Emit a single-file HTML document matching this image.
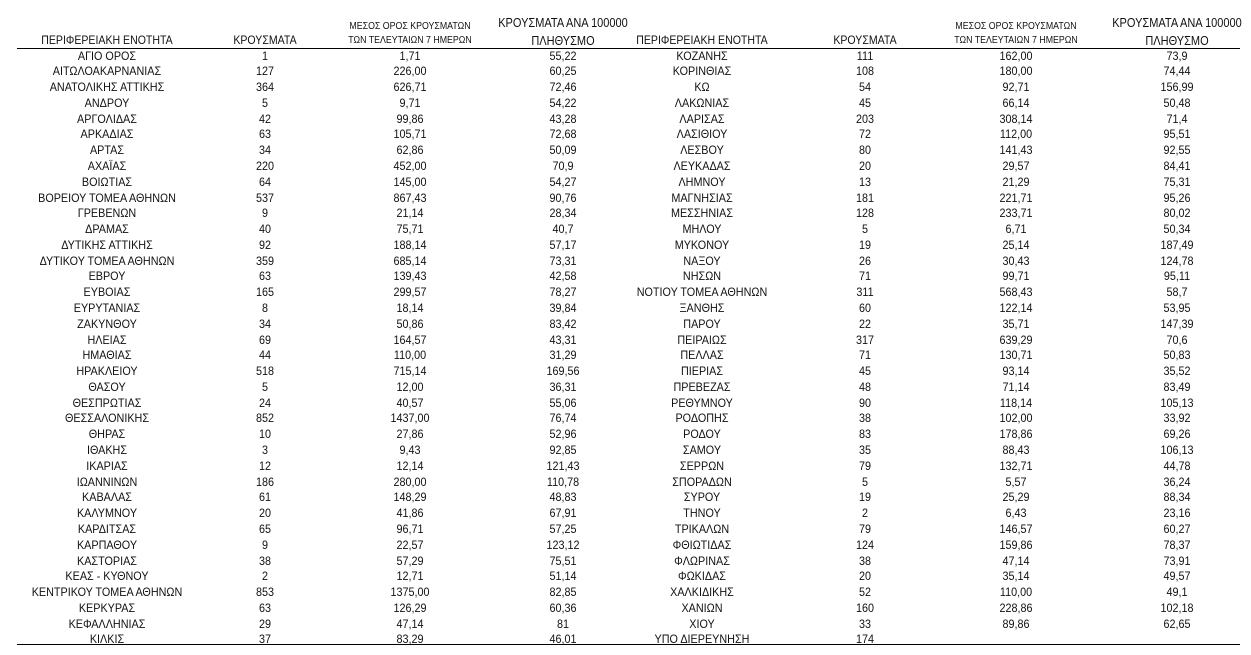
<!DOCTYPE html>
<html><head><meta charset="utf-8"><style>
body{margin:0;width:1251px;height:655px;background:#fff;position:relative;overflow:hidden;font-family:"Liberation Sans","DejaVu Sans",sans-serif;color:#000}
.c{position:absolute;width:300px;text-align:center;font-size:12px;line-height:15.78px;transform:scaleX(.9);transform-origin:center top;white-space:nowrap;top:48.5px;color:#111}
.h{position:absolute;width:300px;text-align:center;white-space:nowrap;transform:scaleX(.88);transform-origin:center top;color:#111}
.line{position:absolute;left:17px;width:1223px;height:1.3px;background:#000}
</style></head><body>
<div class="line" style="top:47.5px"></div>
<div class="line" style="top:643.5px"></div>

<div class="h" style="left:-43px;top:33px;font-size:12px">ΠΕΡΙΦΕΡΕΙΑΚΗ ΕΝΟΤΗΤΑ</div>
<div class="h" style="left:115px;top:33px;font-size:12px">ΚΡΟΥΣΜΑΤΑ</div>
<div class="h" style="left:260px;top:20px;font-size:10px;line-height:13.5px">ΜΕΣΟΣ ΟΡΟΣ ΚΡΟΥΣΜΑΤΩΝ<br>ΤΩΝ ΤΕΛΕΥΤΑΙΩΝ 7 ΗΜΕΡΩΝ</div>
<div class="h" style="left:413px;top:14px;font-size:12.5px;line-height:18px">ΚΡΟΥΣΜΑΤΑ ΑΝΑ 100000<br>ΠΛΗΘΥΣΜΟ</div>

<div class="h" style="left:552px;top:33px;font-size:12px">ΠΕΡΙΦΕΡΕΙΑΚΗ ΕΝΟΤΗΤΑ</div>
<div class="h" style="left:715px;top:33px;font-size:12px">ΚΡΟΥΣΜΑΤΑ</div>
<div class="h" style="left:866px;top:20px;font-size:10px;line-height:13.5px">ΜΕΣΟΣ ΟΡΟΣ ΚΡΟΥΣΜΑΤΩΝ<br>ΤΩΝ ΤΕΛΕΥΤΑΙΩΝ 7 ΗΜΕΡΩΝ</div>
<div class="h" style="left:1027px;top:14px;font-size:12.5px;line-height:18px">ΚΡΟΥΣΜΑΤΑ ΑΝΑ 100000<br>ΠΛΗΘΥΣΜΟ</div>

<div class="c" style="left:-43px">ΑΓΙΟ ΟΡΟΣ<br>ΑΙΤΩΛΟΑΚΑΡΝΑΝΙΑΣ<br>ΑΝΑΤΟΛΙΚΗΣ ΑΤΤΙΚΗΣ<br>ΑΝΔΡΟΥ<br>ΑΡΓΟΛΙΔΑΣ<br>ΑΡΚΑΔΙΑΣ<br>ΑΡΤΑΣ<br>ΑΧΑΪΑΣ<br>ΒΟΙΩΤΙΑΣ<br>ΒΟΡΕΙΟΥ ΤΟΜΕΑ ΑΘΗΝΩΝ<br>ΓΡΕΒΕΝΩΝ<br>ΔΡΑΜΑΣ<br>ΔΥΤΙΚΗΣ ΑΤΤΙΚΗΣ<br>ΔΥΤΙΚΟΥ ΤΟΜΕΑ ΑΘΗΝΩΝ<br>ΕΒΡΟΥ<br>ΕΥΒΟΙΑΣ<br>ΕΥΡΥΤΑΝΙΑΣ<br>ΖΑΚΥΝΘΟΥ<br>ΗΛΕΙΑΣ<br>ΗΜΑΘΙΑΣ<br>ΗΡΑΚΛΕΙΟΥ<br>ΘΑΣΟΥ<br>ΘΕΣΠΡΩΤΙΑΣ<br>ΘΕΣΣΑΛΟΝΙΚΗΣ<br>ΘΗΡΑΣ<br>ΙΘΑΚΗΣ<br>ΙΚΑΡΙΑΣ<br>ΙΩΑΝΝΙΝΩΝ<br>ΚΑΒΑΛΑΣ<br>ΚΑΛΥΜΝΟΥ<br>ΚΑΡΔΙΤΣΑΣ<br>ΚΑΡΠΑΘΟΥ<br>ΚΑΣΤΟΡΙΑΣ<br>ΚΕΑΣ - ΚΥΘΝΟΥ<br>ΚΕΝΤΡΙΚΟΥ ΤΟΜΕΑ ΑΘΗΝΩΝ<br>ΚΕΡΚΥΡΑΣ<br>ΚΕΦΑΛΛΗΝΙΑΣ<br>ΚΙΛΚΙΣ</div>
<div class="c" style="left:115px">1<br>127<br>364<br>5<br>42<br>63<br>34<br>220<br>64<br>537<br>9<br>40<br>92<br>359<br>63<br>165<br>8<br>34<br>69<br>44<br>518<br>5<br>24<br>852<br>10<br>3<br>12<br>186<br>61<br>20<br>65<br>9<br>38<br>2<br>853<br>63<br>29<br>37</div>
<div class="c" style="left:260px">1,71<br>226,00<br>626,71<br>9,71<br>99,86<br>105,71<br>62,86<br>452,00<br>145,00<br>867,43<br>21,14<br>75,71<br>188,14<br>685,14<br>139,43<br>299,57<br>18,14<br>50,86<br>164,57<br>110,00<br>715,14<br>12,00<br>40,57<br>1437,00<br>27,86<br>9,43<br>12,14<br>280,00<br>148,29<br>41,86<br>96,71<br>22,57<br>57,29<br>12,71<br>1375,00<br>126,29<br>47,14<br>83,29</div>
<div class="c" style="left:413px">55,22<br>60,25<br>72,46<br>54,22<br>43,28<br>72,68<br>50,09<br>70,9<br>54,27<br>90,76<br>28,34<br>40,7<br>57,17<br>73,31<br>42,58<br>78,27<br>39,84<br>83,42<br>43,31<br>31,29<br>169,56<br>36,31<br>55,06<br>76,74<br>52,96<br>92,85<br>121,43<br>110,78<br>48,83<br>67,91<br>57,25<br>123,12<br>75,51<br>51,14<br>82,85<br>60,36<br>81<br>46,01</div>

<div class="c" style="left:552px">ΚΟΖΑΝΗΣ<br>ΚΟΡΙΝΘΙΑΣ<br>ΚΩ<br>ΛΑΚΩΝΙΑΣ<br>ΛΑΡΙΣΑΣ<br>ΛΑΣΙΘΙΟΥ<br>ΛΕΣΒΟΥ<br>ΛΕΥΚΑΔΑΣ<br>ΛΗΜΝΟΥ<br>ΜΑΓΝΗΣΙΑΣ<br>ΜΕΣΣΗΝΙΑΣ<br>ΜΗΛΟΥ<br>ΜΥΚΟΝΟΥ<br>ΝΑΞΟΥ<br>ΝΗΣΩΝ<br>ΝΟΤΙΟΥ ΤΟΜΕΑ ΑΘΗΝΩΝ<br>ΞΑΝΘΗΣ<br>ΠΑΡΟΥ<br>ΠΕΙΡΑΙΩΣ<br>ΠΕΛΛΑΣ<br>ΠΙΕΡΙΑΣ<br>ΠΡΕΒΕΖΑΣ<br>ΡΕΘΥΜΝΟΥ<br>ΡΟΔΟΠΗΣ<br>ΡΟΔΟΥ<br>ΣΑΜΟΥ<br>ΣΕΡΡΩΝ<br>ΣΠΟΡΑΔΩΝ<br>ΣΥΡΟΥ<br>ΤΗΝΟΥ<br>ΤΡΙΚΑΛΩΝ<br>ΦΘΙΩΤΙΔΑΣ<br>ΦΛΩΡΙΝΑΣ<br>ΦΩΚΙΔΑΣ<br>ΧΑΛΚΙΔΙΚΗΣ<br>ΧΑΝΙΩΝ<br>ΧΙΟΥ<br>ΥΠΟ ΔΙΕΡΕΥΝΗΣΗ</div>
<div class="c" style="left:715px">111<br>108<br>54<br>45<br>203<br>72<br>80<br>20<br>13<br>181<br>128<br>5<br>19<br>26<br>71<br>311<br>60<br>22<br>317<br>71<br>45<br>48<br>90<br>38<br>83<br>35<br>79<br>5<br>19<br>2<br>79<br>124<br>38<br>20<br>52<br>160<br>33<br>174</div>
<div class="c" style="left:866px">162,00<br>180,00<br>92,71<br>66,14<br>308,14<br>112,00<br>141,43<br>29,57<br>21,29<br>221,71<br>233,71<br>6,71<br>25,14<br>30,43<br>99,71<br>568,43<br>122,14<br>35,71<br>639,29<br>130,71<br>93,14<br>71,14<br>118,14<br>102,00<br>178,86<br>88,43<br>132,71<br>5,57<br>25,29<br>6,43<br>146,57<br>159,86<br>47,14<br>35,14<br>110,00<br>228,86<br>89,86</div>
<div class="c" style="left:1027px">73,9<br>74,44<br>156,99<br>50,48<br>71,4<br>95,51<br>92,55<br>84,41<br>75,31<br>95,26<br>80,02<br>50,34<br>187,49<br>124,78<br>95,11<br>58,7<br>53,95<br>147,39<br>70,6<br>50,83<br>35,52<br>83,49<br>105,13<br>33,92<br>69,26<br>106,13<br>44,78<br>36,24<br>88,34<br>23,16<br>60,27<br>78,37<br>73,91<br>49,57<br>49,1<br>102,18<br>62,65</div>
</body></html>
